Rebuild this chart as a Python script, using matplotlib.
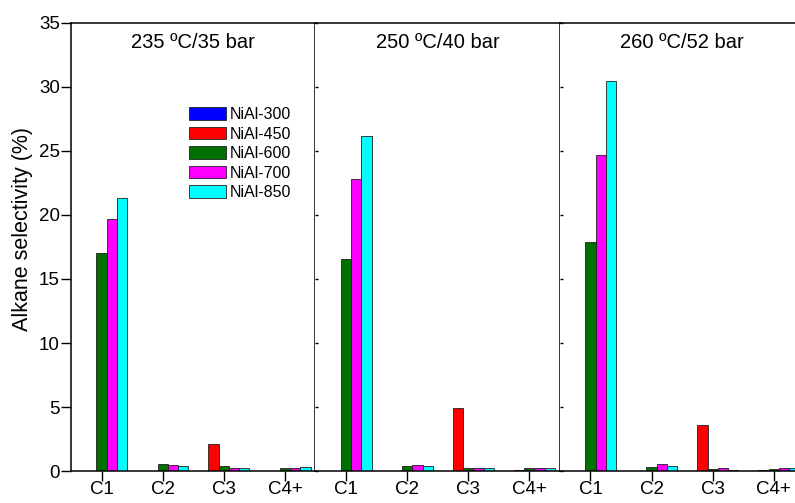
import matplotlib.pyplot as plt
import numpy as np

plt.rcParams['font.family'] = ['Liberation Sans', 'DejaVu Sans']

# 反应条件与碳数分布
conditions = ['235 ºC/35 bar', '250 ºC/40 bar', '260 ºC/52 bar']
categories = ['C1', 'C2', 'C3', 'C4+']
samples = ['NiAl-300', 'NiAl-450', 'NiAl-600', 'NiAl-700', 'NiAl-850']
colors = ['#0000ff', '#ff0000', '#007000', '#ff00ff', '#00ffff']

# 每个条件下各样品的烷烃选择性 (%)，顺序 C1, C2, C3, C4+
sel_235 = [
    [0, 0, 0, 0],
    [0, 0, 2.08, 0.02],
    [17.0, 0.57, 0.37, 0.27],
    [19.65, 0.47, 0.23, 0.27],
    [21.3, 0.39, 0.23, 0.33],
]
sel_250 = [
    [0, 0, 0, 0],
    [0, 0, 4.92, 0.05],
    [16.55, 0.42, 0.2, 0.2],
    [22.8, 0.45, 0.25, 0.2],
    [26.2, 0.42, 0.2, 0.25],
]
sel_260 = [
    [0, 0, 0, 0],
    [0, 0, 3.57, 0.1],
    [17.9, 0.33, 0.16, 0.13],
    [24.7, 0.52, 0.2, 0.27],
    [30.45, 0.37, 0.1, 0.2],
]
panels = [sel_235, sel_250, sel_260]

fig = plt.figure(figsize=(7.95, 5.03), dpi=100)

left, bottom, w, h = 0.0893, 0.0636, 0.3075, 0.8907
x = np.arange(len(categories)) + 0.5
bw = 0.168

axes = []
for k, (cond, data) in enumerate(zip(conditions, panels)):
    ax = fig.add_axes([left + k * w, bottom, w, h])
    axes.append(ax)
    for i, (name, vals) in enumerate(zip(samples, data)):
        ax.bar(x + (i - 2) * bw, vals, bw, color=colors[i], edgecolor='#202020',
               linewidth=0.6, label=name)
    ax.set_xlim(0, 4)
    ax.set_ylim(0, 35)
    ax.set_xticks(x)
    ax.set_xticklabels(categories, fontsize=13.5)
    ax.tick_params(axis='x', direction='out', length=7, width=1, pad=0)
    ax.set_yticks(np.arange(0, 36, 5))
    for s in ax.spines.values():
        s.set_linewidth(1.1)
    if k == 0:
        ax.tick_params(axis='y', direction='out', length=7, width=1, labelsize=13.5, pad=1)
        ax.set_ylabel('Alkane selectivity (%)', fontsize=15.5, labelpad=1)
        ax.yaxis.set_label_coords(-0.155, 0.54)
    else:
        ax.tick_params(axis='y', direction='in', length=2, width=1, labelleft=False)
        ax.spines['left'].set_visible(False)
    ax.text(0.5, 0.978, cond, transform=ax.transAxes, ha='center', va='top', fontsize=14.5)

axes[0].legend(loc='upper left', bbox_to_anchor=(0.45, 0.83), frameon=False,
               fontsize=11.5, handlelength=2.3, handleheight=0.85,
               labelspacing=0.28, handletextpad=0.25, borderpad=0)

fig.savefig('out.png', dpi=100)
